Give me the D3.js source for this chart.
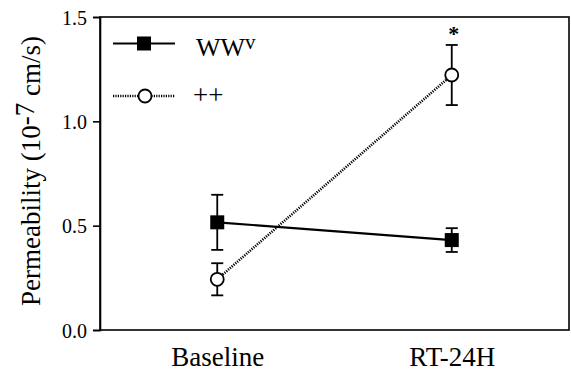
<!DOCTYPE html>
<html><head><meta charset="utf-8">
<script src="https://cdn.jsdelivr.net/npm/d3@7"></script>
<style>body{margin:0;background:#fff}svg{display:block}svg text{font-family:'Liberation Serif',serif !important;fill:#000}</style>
</head><body>
<svg id="c" width="571" height="371"></svg>
<script>
const categories = ["Baseline", "RT-24H"];
const wwMean = [0.516, 0.431];
const wwErr = [0.132, 0.057];
const ppMean = [0.243, 1.222];
const ppErr = [0.077, 0.144];
const yTicks = [0.0, 0.5, 1.0, 1.5];
const sigFlags = ["", "*"]; // ++ series significance marks

const svg = d3.select("#c");
const L = 100, R = 569, T = 17, B = 330;
const x = d3.scalePoint().domain(categories).range([L, R]).padding(0.5);
const y = d3.scaleLinear().domain([0, 1.5]).range([B, T]);

// frame
svg.append("rect").attr("x", L).attr("y", T).attr("width", R - L).attr("height", B - T)
  .attr("fill", "none").attr("stroke", "#000").attr("stroke-width", 1.6);

// y axis
const ya = svg.append("g").attr("transform", `translate(${L},0)`)
  .call(d3.axisLeft(y).tickValues(yTicks).tickFormat(d3.format(".1f")).tickSize(7).tickPadding(6))
  .attr("font-family", "Liberation Serif").attr("font-size", 20);
ya.select(".domain").attr("stroke-width", 1.6);
ya.selectAll(".tick line").attr("stroke-width", 1.6);
ya.selectAll(".tick text").attr("dy", "0.35em");

// x axis labels
const xa = svg.append("g").attr("transform", `translate(0,${B})`)
  .call(d3.axisBottom(x).tickSize(0).tickPadding(10))
  .attr("font-family", "Liberation Serif").attr("font-size", 27);
xa.select(".domain").remove();
xa.selectAll(".tick text").attr("dy", "0.95em");

// y title
const yt = svg.append("text").attr("transform", `translate(40,171) rotate(-90)`)
  .attr("text-anchor", "middle").attr("font-size", 27);
yt.append("tspan").text("Permeability (10");
yt.append("tspan").attr("dy", -6).text("-7");
yt.append("tspan").attr("dy", 6).text(" cm/s)");

const line = d3.line().x((d, i) => x(categories[i])).y(d => y(d));

// series lines
svg.append("path").datum(wwMean).attr("d", line).attr("fill", "none").attr("stroke", "#000").attr("stroke-width", 2.2);
svg.append("path").datum(ppMean).attr("d", line).attr("fill", "none").attr("stroke", "#000").attr("stroke-width", 2.6).attr("stroke-dasharray", "1.2,1.2");

function errBars(mean, err, cap) {
  const g = svg.append("g").attr("stroke", "#000").attr("stroke-width", 1.8);
  mean.forEach((m, i) => {
    const cx = x(categories[i]);
    g.append("line").attr("x1", cx).attr("x2", cx).attr("y1", y(m - err[i])).attr("y2", y(m + err[i]));
    [m - err[i], m + err[i]].forEach(v => g.append("line").attr("x1", cx - cap).attr("x2", cx + cap).attr("y1", y(v)).attr("y2", y(v)));
  });
}
errBars(wwMean, wwErr, 6);
errBars(ppMean, ppErr, 6);

// markers
svg.selectAll(".sq").data(wwMean).enter().append("rect")
  .attr("x", (d, i) => x(categories[i]) - 7).attr("y", d => y(d) - 7).attr("width", 14).attr("height", 14).attr("fill", "#000");
svg.selectAll(".ci").data(ppMean).enter().append("circle")
  .attr("cx", (d, i) => x(categories[i])).attr("cy", d => y(d)).attr("r", 6.5)
  .attr("fill", "#fff").attr("stroke", "#000").attr("stroke-width", 1.8);

// significance
svg.selectAll(".sig").data(ppMean).enter().append("text")
  .attr("x", (d, i) => x(categories[i]) + 2).attr("y", (d, i) => y(d + ppErr[i]) - 4)
  .attr("text-anchor", "middle").attr("font-size", 22).attr("font-weight", "bold")
  .text((d, i) => sigFlags[i]);

// legend
const lg = svg.append("g");
lg.append("line").attr("x1", 113).attr("x2", 175).attr("y1", 43.5).attr("y2", 43.5).attr("stroke", "#000").attr("stroke-width", 2.2);
lg.append("rect").attr("x", 137).attr("y", 36.5).attr("width", 14).attr("height", 14).attr("fill", "#000");
const t1 = lg.append("text").attr("x", 196).attr("y", 56).attr("font-size", 26);
t1.append("tspan").text("WW");
t1.append("tspan").attr("dy", -7).attr("font-size", 21).text("v");
lg.append("line").attr("x1", 113).attr("x2", 175).attr("y1", 96).attr("y2", 96).attr("stroke", "#000").attr("stroke-width", 2.6).attr("stroke-dasharray", "1.2,1.2");
lg.append("circle").attr("cx", 145).attr("cy", 96).attr("r", 6.5).attr("fill", "#fff").attr("stroke", "#000").attr("stroke-width", 1.8);
lg.append("text").attr("x", 193).attr("y", 104).attr("font-size", 27).text("++");
</script>
</body></html>
